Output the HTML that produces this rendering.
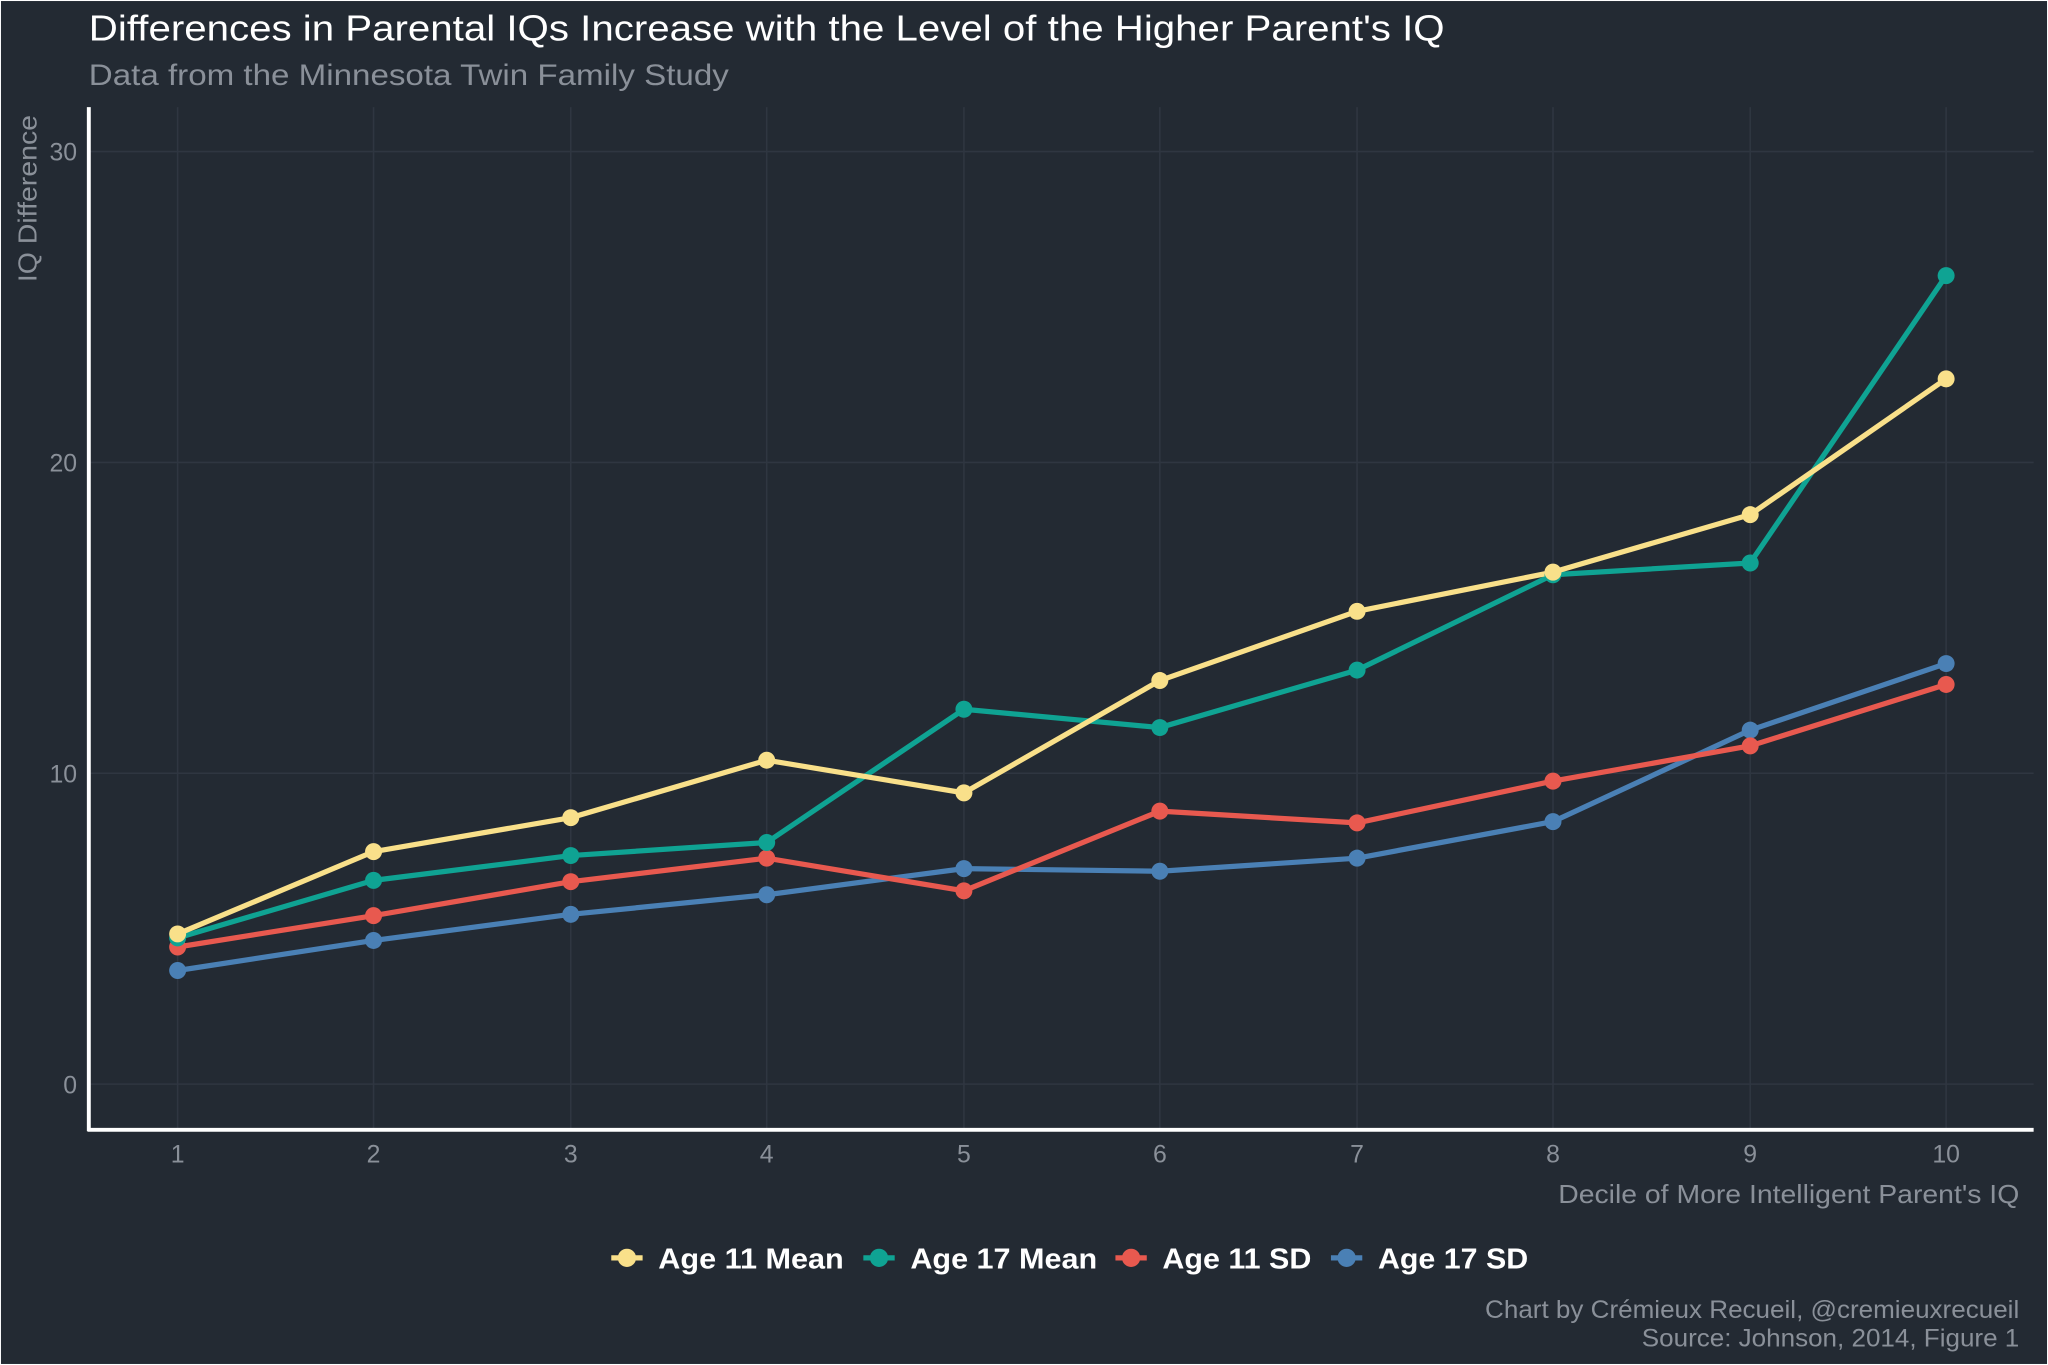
<!DOCTYPE html>
<html><head><meta charset="utf-8"><style>
html,body{margin:0;padding:0;background:#232a33;}
svg{display:block;}
text{font-family:"Liberation Sans",sans-serif;}
</style></head><body>
<svg width="2048" height="1365" viewBox="0 0 1568 1045" xmlns="http://www.w3.org/2000/svg">
<rect x="0" y="0" width="1568" height="1045" fill="#232a33" stroke="#ffffff" stroke-width="1.5"/>
<text x="68" y="31" font-size="28" fill="#ffffff" textLength="1038" lengthAdjust="spacingAndGlyphs">Differences in Parental IQs Increase with the Level of the Higher Parent's IQ</text>
<text x="68" y="65" font-size="23" fill="#8a9099" textLength="490" lengthAdjust="spacingAndGlyphs">Data from the Minnesota Twin Family Study</text>
<g stroke="#2f3641" stroke-width="1.2">
<line x1="68" x2="1557" y1="830" y2="830"/><line x1="68" x2="1557" y1="592" y2="592"/>
<line x1="68" x2="1557" y1="354" y2="354"/><line x1="68" x2="1557" y1="116" y2="116"/>
<line x1="136" x2="136" y1="82" y2="865"/><line x1="286" x2="286" y1="82" y2="865"/>
<line x1="437" x2="437" y1="82" y2="865"/><line x1="587" x2="587" y1="82" y2="865"/>
<line x1="738" x2="738" y1="82" y2="865"/><line x1="888" x2="888" y1="82" y2="865"/>
<line x1="1039" x2="1039" y1="82" y2="865"/><line x1="1189" x2="1189" y1="82" y2="865"/>
<line x1="1340" x2="1340" y1="82" y2="865"/><line x1="1490" x2="1490" y1="82" y2="865"/>
</g>
<line x1="68" y1="82" x2="68" y2="866" stroke="#fff" stroke-width="3"/>
<line x1="67" y1="865" x2="1557" y2="865" stroke="#fff" stroke-width="3"/>
<g font-size="19" fill="#8a9099" text-anchor="end">
<text x="59" y="837">0</text><text x="59" y="599">10</text><text x="59" y="361">20</text><text x="59" y="123">30</text>
</g>
<g font-size="19" fill="#8a9099" text-anchor="middle">
<text x="136" y="890">1</text><text x="286" y="890">2</text><text x="437" y="890">3</text><text x="587" y="890">4</text><text x="738" y="890">5</text><text x="888" y="890">6</text><text x="1039" y="890">7</text><text x="1189" y="890">8</text><text x="1340" y="890">9</text><text x="1490" y="890">10</text>
</g>
<text x="1193" y="921" font-size="20" fill="#8a9099" textLength="353" lengthAdjust="spacingAndGlyphs">Decile of More Intelligent Parent's IQ</text>
<text transform="translate(28,216) rotate(-90)" font-size="20" fill="#8a9099" textLength="128" lengthAdjust="spacingAndGlyphs">IQ Difference</text>
<g fill="none" stroke-width="4" stroke-linejoin="round">
<polyline stroke="#4a80b5" points="136,743 286,720 437,700 587,685 738,665 888,667 1039,657 1189,629 1340,559 1490,508"/>
<polyline stroke="#e8594f" points="136,725 286,701 437,675 587,657 738,682 888,621 1039,630 1189,598 1340,571 1490,524"/>
<polyline stroke="#0fa393" points="136,718 286,674 437,655 587,645 738,543 888,557 1039,513 1189,440 1340,431 1490,211"/>
<polyline stroke="#f9e08a" points="136,715 286,652 437,626 587,582 738,607 888,521 1039,468 1189,438 1340,394 1490,290"/>
</g>
<g fill="#4a80b5"><circle cx="136" cy="743" r="6.5"/><circle cx="286" cy="720" r="6.5"/><circle cx="437" cy="700" r="6.5"/><circle cx="587" cy="685" r="6.5"/><circle cx="738" cy="665" r="6.5"/><circle cx="888" cy="667" r="6.5"/><circle cx="1039" cy="657" r="6.5"/><circle cx="1189" cy="629" r="6.5"/><circle cx="1340" cy="559" r="6.5"/><circle cx="1490" cy="508" r="6.5"/></g>
<g fill="#e8594f"><circle cx="136" cy="725" r="6.5"/><circle cx="286" cy="701" r="6.5"/><circle cx="437" cy="675" r="6.5"/><circle cx="587" cy="657" r="6.5"/><circle cx="738" cy="682" r="6.5"/><circle cx="888" cy="621" r="6.5"/><circle cx="1039" cy="630" r="6.5"/><circle cx="1189" cy="598" r="6.5"/><circle cx="1340" cy="571" r="6.5"/><circle cx="1490" cy="524" r="6.5"/></g>
<g fill="#0fa393"><circle cx="136" cy="718" r="6.5"/><circle cx="286" cy="674" r="6.5"/><circle cx="437" cy="655" r="6.5"/><circle cx="587" cy="645" r="6.5"/><circle cx="738" cy="543" r="6.5"/><circle cx="888" cy="557" r="6.5"/><circle cx="1039" cy="513" r="6.5"/><circle cx="1189" cy="440" r="6.5"/><circle cx="1340" cy="431" r="6.5"/><circle cx="1490" cy="211" r="6.5"/></g>
<g fill="#f9e08a"><circle cx="136" cy="715" r="6.5"/><circle cx="286" cy="652" r="6.5"/><circle cx="437" cy="626" r="6.5"/><circle cx="587" cy="582" r="6.5"/><circle cx="738" cy="607" r="6.5"/><circle cx="888" cy="521" r="6.5"/><circle cx="1039" cy="468" r="6.5"/><circle cx="1189" cy="438" r="6.5"/><circle cx="1340" cy="394" r="6.5"/><circle cx="1490" cy="290" r="6.5"/></g>
<g font-size="22" font-weight="bold" fill="#ffffff">
<line x1="468" x2="492" y1="963" y2="963" stroke="#f9e08a" stroke-width="4"/><circle cx="480" cy="963" r="7" fill="#f9e08a"/><text x="504" y="971" textLength="142" lengthAdjust="spacingAndGlyphs">Age 11 Mean</text>
<line x1="661" x2="685" y1="963" y2="963" stroke="#0fa393" stroke-width="4"/><circle cx="673" cy="963" r="7" fill="#0fa393"/><text x="697" y="971" textLength="143" lengthAdjust="spacingAndGlyphs">Age 17 Mean</text>
<line x1="854" x2="878" y1="963" y2="963" stroke="#e8594f" stroke-width="4"/><circle cx="866" cy="963" r="7" fill="#e8594f"/><text x="890" y="971" textLength="114" lengthAdjust="spacingAndGlyphs">Age 11 SD</text>
<line x1="1019" x2="1043" y1="963" y2="963" stroke="#4a80b5" stroke-width="4"/><circle cx="1031" cy="963" r="7" fill="#4a80b5"/><text x="1055" y="971" textLength="115" lengthAdjust="spacingAndGlyphs">Age 17 SD</text>
</g>
<g font-size="19" fill="#8a9099">
<text x="1137" y="1009" textLength="409" lengthAdjust="spacingAndGlyphs">Chart by Crémieux Recueil, @cremieuxrecueil</text>
<text x="1257" y="1031" textLength="289" lengthAdjust="spacingAndGlyphs">Source: Johnson, 2014, Figure 1</text>
</g>
</svg>
</body></html>
